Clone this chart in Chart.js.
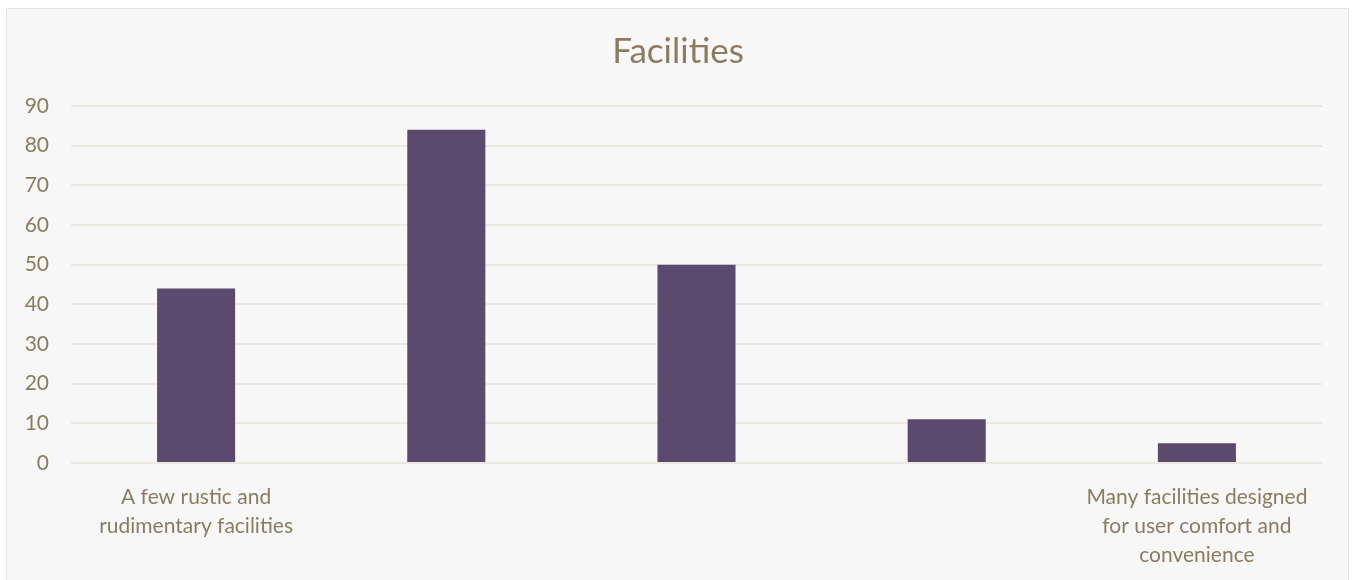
<!DOCTYPE html>
<html>
<head>
<meta charset="utf-8">
<script src="https://cdn.jsdelivr.net/npm/chart.js@4.4.1/dist/chart.umd.min.js"></script>
<style>
    html, body { margin: 0; padding: 0; background: #ffffff; }
    #frame {
        position: absolute; left: 6px; top: 8px; width: 1343px; height: 580px;
        background: #f7f7f7; border: 1px solid #e9e4dd; box-sizing: border-box;
    }
    #wrap { position: absolute; left: 0; top: 0; width: 1356px; height: 580px; }
</style>
</head>
<body>
<div id="frame"></div>
<div id="wrap"><canvas id="facilitiesChart" width="1356" height="580"></canvas></div>
<script>
    // data
    var chartTitle = 'Facilities';
    var categories = [
        ["A few rustic and", "rudimentary facilities"],
        "",
        "",
        "",
        ["Many facilities designed", "for user comfort and", "convenience"]
    ];
    var counts = [44, 84, 50, 11, 5];
    var yTicks = [0, 10, 20, 30, 40, 50, 60, 70, 80, 90];

    var textColor = '#8c7b5f';
    var fontName = 'Lato, "Open Sans", sans-serif';

    // the built-in title centres on the padded box, so draw it over the whole canvas instead
    var centredTitle = {
        id: 'centredTitle',
        afterDraw: function (chart) {
            var c = chart.ctx;
            c.save();
            c.font = '35px ' + fontName;
            c.fillStyle = textColor;
            c.textAlign = 'center';
            c.textBaseline = 'middle';
            c.fillText(chartTitle, chart.width / 2, 52);
            c.restore();
        }
    };

    var ctx = document.getElementById('facilitiesChart').getContext('2d');
    new Chart(ctx, {
        type: 'bar',
        data: {
            labels: categories,
            datasets: [{
                label: chartTitle,
                data: counts,
                backgroundColor: '#5b4a6e',
                borderWidth: 0,
                categoryPercentage: 1,
                barPercentage: 0.312
            }]
        },
        plugins: [centredTitle],
        options: {
            responsive: false,
            animation: false,
            layout: { padding: { left: 0, right: 34, top: 106, bottom: 0 } },
            plugins: {
                legend: { display: false },
                tooltip: { enabled: false },
                title: { display: false }
            },
            scales: {
                x: {
                    grid: { display: false },
                    border: { display: false },
                    ticks: {
                        color: textColor,
                        font: { family: fontName, size: 21, lineHeight: 1.38 },
                        maxRotation: 0,
                        autoSkip: false,
                        padding: 12
                    },
                    afterFit: function (scale) { scale.height = 117; }
                },
                y: {
                    min: 0,
                    max: yTicks[yTicks.length - 1],
                    afterBuildTicks: function (scale) {
                        scale.ticks = yTicks.map(function (v) { return { value: v }; });
                    },
                    grid: { color: '#ece8e2', lineWidth: 2, drawTicks: false },
                    border: { display: false },
                    ticks: {
                        color: textColor,
                        font: { family: fontName, size: 21 },
                        padding: 22
                    },
                    afterFit: function (scale) { scale.width = 71; }
                }
            }
        }
    });
</script>
</body>
</html>
